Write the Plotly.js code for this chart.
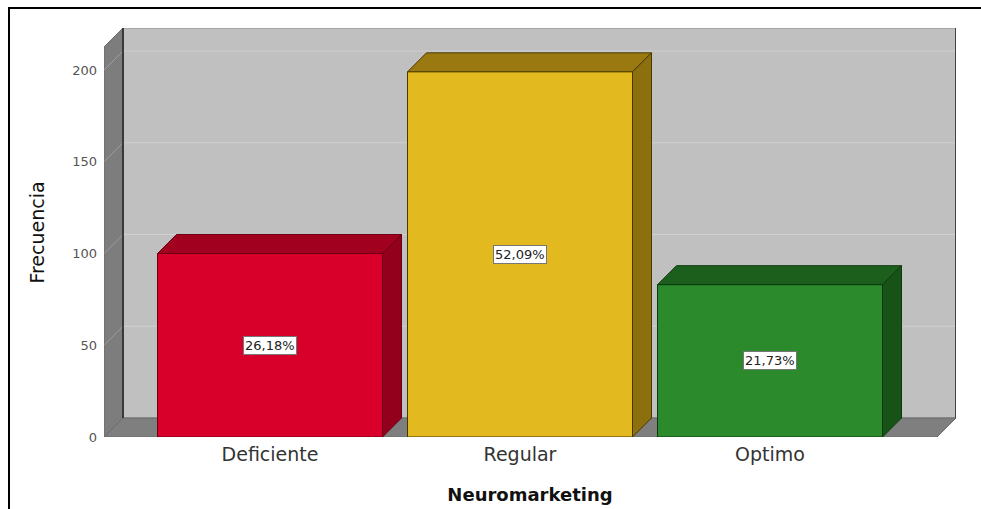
<!DOCTYPE html>
<html>
<head>
<meta charset="utf-8">
<script src="https://cdn.plot.ly/plotly-3.0.1.min.js"></script>
<style>
  html, body { margin: 0; padding: 0; background: #ffffff; }
  #wrap { position: relative; width: 981px; height: 509px; overflow: hidden; }
  #chart { width: 981px; height: 509px; }
  #frame { position: absolute; left: 8px; top: 7px; right: -4px; bottom: -4px;
           border-top: 2px solid #000; border-left: 2px solid #000; pointer-events: none; }
</style>
</head>
<body>
<div id="wrap">
  <div id="chart"></div>
  <div id="frame"></div>
</div>
<script>
// ---- data ----
const categories = ['Deficiente', 'Regular', 'Optimo'];
const counts = [100, 199, 83];
const percents = [26.18, 52.09, 21.73];
const yTickValues = [0, 50, 100, 150, 200];

// ---- style ----
const frontColors = ['#d8002b', '#e2ba1f', '#2b8a2c'];
const topColors   = ['#a1001f', '#9a7a10', '#1c5f1c'];
const sideColors  = ['#93001c', '#8c700e', '#175317'];
const edgeColors  = ['#6e0014', '#4a3700', '#0c380c'];

const W = 981, H = 509;
const M = { l: 104, r: 25, t: 28, b: 72 };
const XR = [-0.664, 2.744];
const YR = [0, 222.9];
const BARW = 0.9;
const DEPTH = 19; // px
const pxPerX = (W - M.l - M.r) / (XR[1] - XR[0]);
const pxPerY = (H - M.t - M.b) / (YR[1] - YR[0]);
const DX = DEPTH / pxPerX;
const DY = DEPTH / pxPerY;

function poly(pts) {
  return 'M' + pts.map(p => p[0] + ',' + p[1]).join(' L') + ' Z';
}

const shapes = [];
const x0 = XR[0], x1 = XR[1];
// back wall
shapes.push({ type: 'path', xref: 'x', yref: 'y', layer: 'below',
  path: poly([[x0 + DX, DY], [x0 + DX, YR[1]], [x1, YR[1]], [x1, DY]]),
  fillcolor: '#c0c0c0', line: { color: '#8c8c8c', width: 1 } });
// left wall
shapes.push({ type: 'path', xref: 'x', yref: 'y', layer: 'below',
  path: poly([[x0, 0], [x0, YR[1] - DY], [x0 + DX, YR[1]], [x0 + DX, DY]]),
  fillcolor: '#7d7d7d', line: { color: '#6a6a6a', width: 1 } });
// floor
shapes.push({ type: 'path', xref: 'x', yref: 'y', layer: 'below',
  path: poly([[x0, 0], [x1 - DX, 0], [x1, DY], [x0 + DX, DY]]),
  fillcolor: '#7f7f7f', line: { color: '#6a6a6a', width: 1 } });
// gridlines on walls
yTickValues.forEach(v => {
  if (v === 0) return;
  shapes.push({ type: 'path', xref: 'x', yref: 'y', layer: 'below',
    path: 'M' + x0 + ',' + v + ' L' + (x0 + DX) + ',' + (v + DY) + ' L' + x1 + ',' + (v + DY),
    line: { color: 'rgba(255,255,255,0.25)', width: 1 } });
});
// dark edges of the back wall
shapes.push({ type: 'line', xref: 'x', yref: 'y', layer: 'below',
  x0: x0 + DX, x1: x0 + DX, y0: DY, y1: YR[1], line: { color: '#222', width: 1.5 } });
shapes.push({ type: 'line', xref: 'x', yref: 'y', layer: 'below',
  x0: x1, x1: x1, y0: DY, y1: YR[1], line: { color: '#222', width: 1.5 } });

// 3D faces for the bars
counts.forEach((v, i) => {
  const xl = i - BARW / 2, xr = i + BARW / 2;
  shapes.push({ type: 'path', xref: 'x', yref: 'y', layer: 'below',
    path: poly([[xl, v], [xl + DX, v + DY], [xr + DX, v + DY], [xr, v]]),
    fillcolor: topColors[i], line: { color: edgeColors[i], width: 1 } });
  shapes.push({ type: 'path', xref: 'x', yref: 'y', layer: 'below',
    path: poly([[xr, 0], [xr, v], [xr + DX, v + DY], [xr + DX, DY]]),
    fillcolor: sideColors[i], line: { color: edgeColors[i], width: 1 } });
});

const annotations = counts.map((v, i) => ({
  x: categories[i], y: v / 2, xref: 'x', yref: 'y',
  text: percents[i].toFixed(2).replace('.', ',') + '%',
  showarrow: false,
  font: { family: 'DejaVu Sans', size: 13, color: '#222' },
  bgcolor: '#ffffff', bordercolor: '#777', borderwidth: 1, borderpad: 1
}));

const trace = {
  type: 'bar',
  x: categories,
  y: counts,
  width: BARW,
  marker: { color: frontColors, line: { color: edgeColors, width: 1 } },
  hoverinfo: 'x+y'
};

const layout = {
  width: W, height: H,
  margin: M,
  paper_bgcolor: '#ffffff',
  plot_bgcolor: 'rgba(0,0,0,0)',
  showlegend: false,
  font: { family: 'DejaVu Sans', color: '#333' },
  xaxis: {
    type: 'category',
    range: XR,
    showgrid: false, zeroline: false, showline: false, ticks: '',
    tickfont: { family: 'DejaVu Sans', size: 19, color: '#333' },
    ticklabelstandoff: 4,
    title: { text: 'Neuromarketing', font: { family: 'DejaVu Sans', size: 18, color: '#111', weight: 'bold' }, standoff: 24 },
    fixedrange: true
  },
  yaxis: {
    range: YR,
    tickvals: yTickValues,
    showgrid: false, zeroline: false, showline: false, ticks: '',
    tickfont: { family: 'DejaVu Sans', size: 13, color: '#555' },
    ticklabelstandoff: 6,
    title: { text: 'Frecuencia', font: { family: 'DejaVu Sans', size: 19, color: '#111' }, standoff: 22 },
    fixedrange: true
  },
  shapes: shapes,
  annotations: annotations
};

Plotly.newPlot('chart', [trace], layout, { displayModeBar: false, staticPlot: true });
</script>
</body>
</html>
